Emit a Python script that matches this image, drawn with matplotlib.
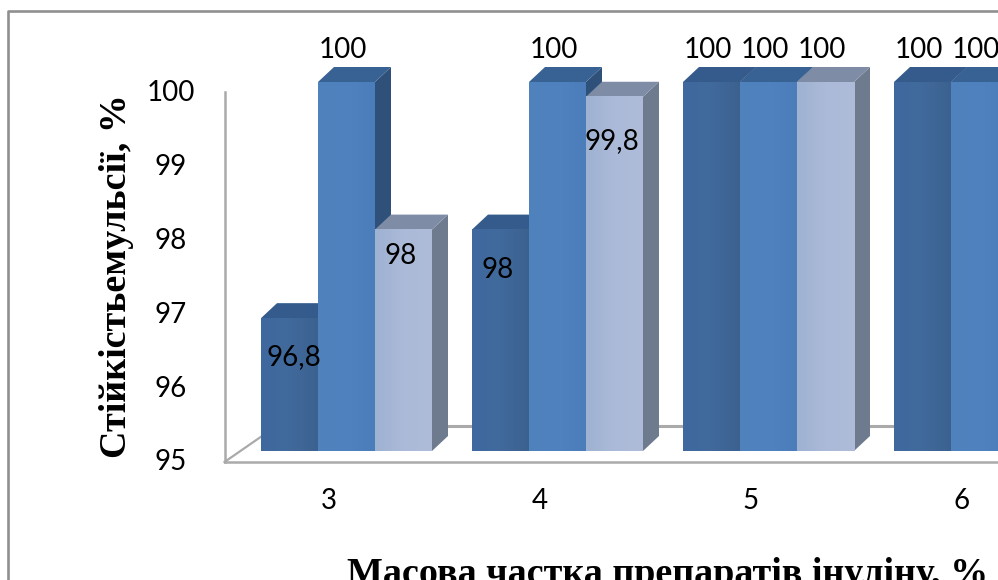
import numpy as np
import matplotlib
matplotlib.use("Agg")
import matplotlib.pyplot as plt
from matplotlib.colors import LinearSegmentedColormap
from matplotlib.patches import Polygon

# Emulsion stability by inulin mass fraction
categories = ["3", "4", "5", "6"]
series_a = [96.8, 98, 100, 100]
series_b = [100, 100, 100, 100]
series_c = [98, 99.8, 100, 100]
y_ticks = [95, 96, 97, 98, 99, 100]

W, H = 998, 580
PX_X = 211.0      # pixels per category
PX_Y = 73.8       # pixels per percent
X0, Y0 = 346.5, 451.0  # pixel position of the first category at 95 %

fig = plt.figure(figsize=(W / 100, H / 100), dpi=100, facecolor="white")
ax = fig.add_axes([0, 0, 1, 1])
ax.set_xlim(-X0 / PX_X, (W - X0) / PX_X)
ax.set_ylim(95 - (H - Y0) / PX_Y, 95 + Y0 / PX_Y)
ax.axis("off")

bar_w = 57.0 / PX_X
dx, dy = 16.0 / PX_X, 15.0 / PX_Y
floor_front = 95 - 11.0 / PX_Y
floor_back = 95 + 25.0 / PX_Y
wall_x = -122.0 / PX_X

# Chart frame, only its top and left edges fall inside the canvas
frame = "#8f8f8f"
fig.add_artist(plt.Line2D([7.5 / W, 7.5 / W, 1], [0, 1 - 10.5 / H, 1 - 10.5 / H],
                          color=frame, lw=1.9))

# 3D walls and floor
wall = "#aaaaaa"
ax.plot([wall_x, wall_x], [floor_front, 100 - 10.0 / PX_Y], color=wall, lw=1.8)
ax.plot([wall_x, ax.get_xlim()[1]], [floor_front, floor_front], color=wall, lw=1.8)
ax.plot([wall_x, wall_x + 52.0 / PX_X], [floor_front, floor_back], color=wall, lw=1.6)
ax.plot([wall_x + 52.0 / PX_X, ax.get_xlim()[1]], [floor_back, floor_back], color=wall, lw=2.2)

styles = [
    {"front": ["#3f6a9f", "#41699c", "#3b628f"], "top": "#345b8b", "side": "#2f5079"},
    {"front": ["#4f81bd", "#5082bf", "#4a7db9"], "top": "#386293", "side": "#2f5079"},
    {"front": ["#9fb2d2", "#abbad8", "#aebcd9"], "top": "#7f8ca6", "side": "#6e7a8e"},
]


def draw_bar(xc, value, st):
    left, right = xc - bar_w / 2, xc + bar_w / 2
    ax.add_patch(Polygon([(right, 95), (right + dx, 95 + dy), (right + dx, value + dy),
                          (right, value)], fc=st["side"], ec="none", zorder=3))
    ax.add_patch(Polygon([(left, value), (left + dx, value + dy),
                          (right + dx, value + dy), (right, value)],
                         fc=st["top"], ec="none", zorder=3))
    cmap = LinearSegmentedColormap.from_list("face", st["front"])
    ax.imshow(np.linspace(0, 1, 64).reshape(1, -1), extent=(left, right, 95, value),
              cmap=cmap, aspect="auto", interpolation="bilinear", zorder=3)


for i in range(len(categories)):
    for j, values in enumerate([series_a, series_b, series_c]):
        draw_bar(i + (j - 1) * bar_w, values[i], styles[j])

ax.set_xlim(-X0 / PX_X, (W - X0) / PX_X)
ax.set_ylim(95 - (H - Y0) / PX_Y, 95 + Y0 / PX_Y)

# Data labels: full bars are labelled above, shorter ones on the front face
label_font = dict(family="Lato", fontsize=20, color="black", ha="center",
                  va="center", zorder=6)
face_shift = {(0, 0): (4, 39), (1, 0): (-3, 40), (0, 2): (-3, 26), (1, 2): (-3, 44)}
for i in range(len(categories)):
    for j, values in enumerate([series_a, series_b, series_c]):
        v = values[i]
        x = i + (j - 1) * bar_w
        text = f"{v:g}".replace(".", ",")
        if v == 100:
            ax.text(x - 3.5 / PX_X, v + 32 / PX_Y, text, **label_font)
        else:
            sx, sy = face_shift[(i, j)]
            ax.text(x + sx / PX_X, v - sy / PX_Y, text, **label_font)

for v in y_ticks:
    ax.text(-176.0 / PX_X, v - 11.5 / PX_Y, str(v), **label_font)
for i, c in enumerate(categories):
    ax.text(i - 18.0 / PX_X, floor_front - 39.5 / PX_Y, c, **label_font)

title_font = dict(family="Liberation Serif", weight="bold", color="black")
fig.text(668 / W, 1 - 575 / H, "Масова частка препаратів інуліну, %", fontsize=27.4,
         ha="center", va="center", **title_font)
fig.text(117 / W, 1 - 276 / H, "Стійкістьемульсії, %", fontsize=27.4, rotation=90,
         ha="center", va="center", **title_font)

fig.savefig("out.png", dpi=100)
